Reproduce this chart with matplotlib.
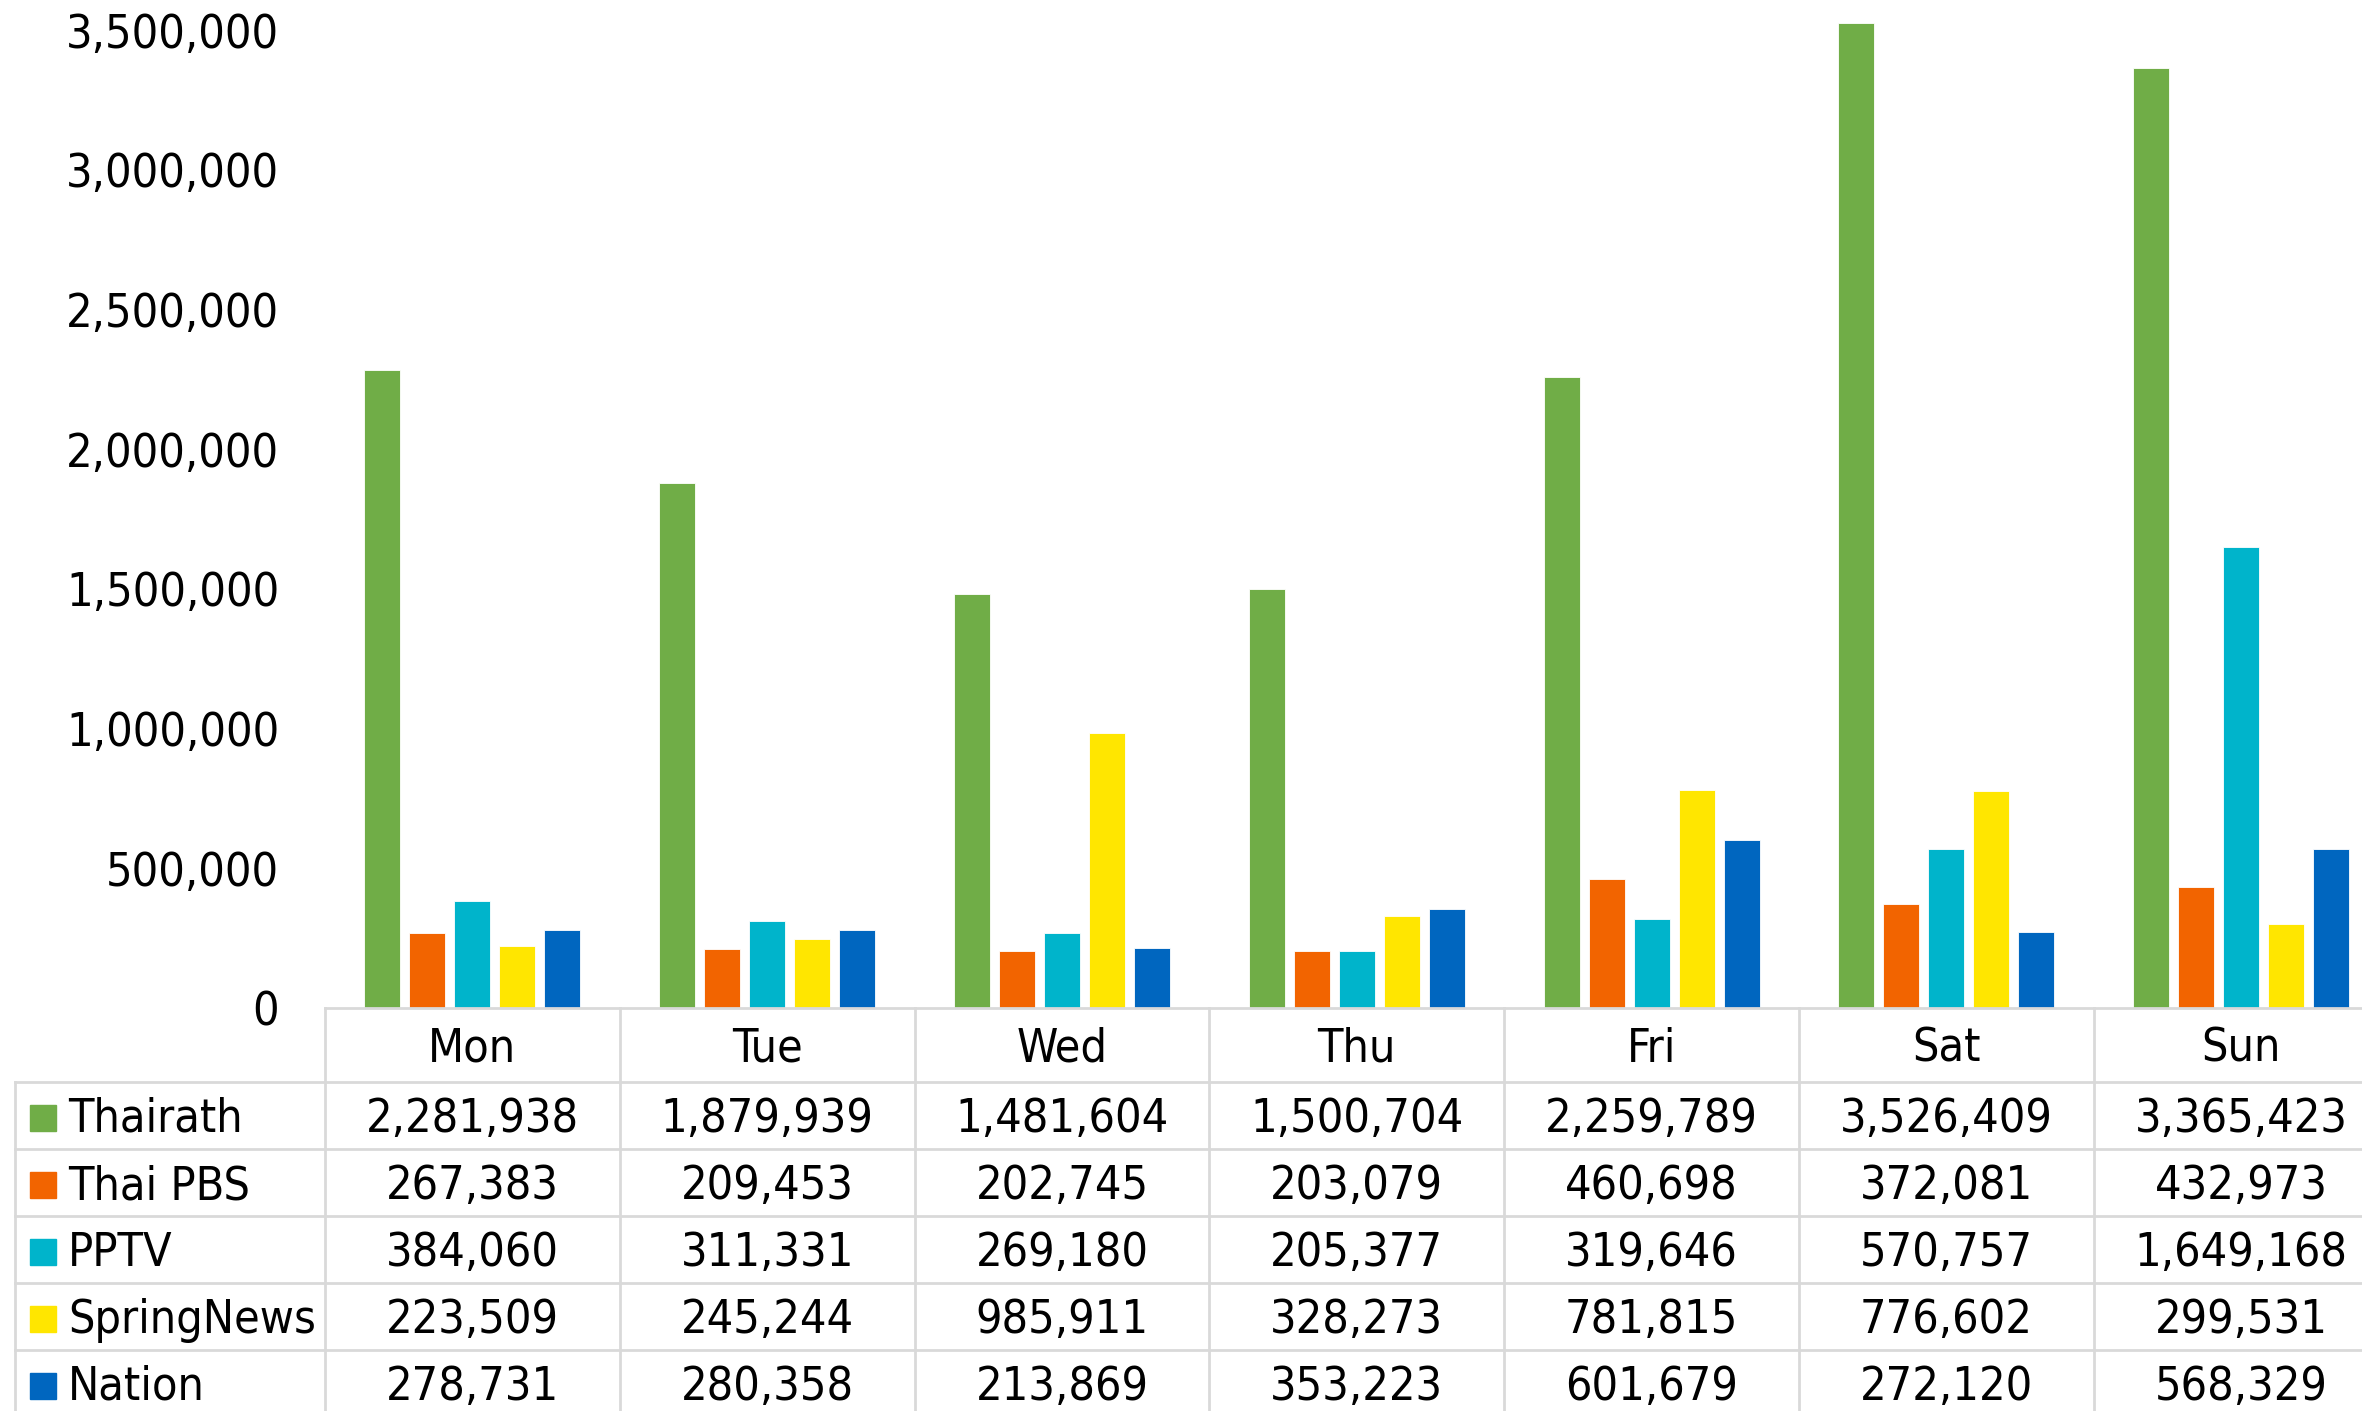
import matplotlib
matplotlib.use("Agg")
import matplotlib.pyplot as plt
import numpy as np
from matplotlib.patches import Rectangle
from matplotlib.ticker import FuncFormatter

# data
days = ['Mon', 'Tue', 'Wed', 'Thu', 'Fri', 'Sat', 'Sun']
channels = ['Thairath', 'Thai PBS', 'PPTV', 'SpringNews', 'Nation']
thairath = [2281938, 1879939, 1481604, 1500704, 2259789, 3526409, 3365423]
thai_pbs = [267383, 209453, 202745, 203079, 460698, 372081, 432973]
pptv = [384060, 311331, 269180, 205377, 319646, 570757, 1649168]
springnews = [223509, 245244, 985911, 328273, 781815, 776602, 299531]
nation = [278731, 280358, 213869, 353223, 601679, 272120, 568329]
series = [thairath, thai_pbs, pptv, springnews, nation]
colors = ['#70AD47', '#F26400', '#00B4CB', '#FFE600', '#0066BF']
yticks = [0, 500000, 1000000, 1500000, 2000000, 2500000, 3000000, 3500000]

plt.rcParams['font.family'] = ['DejaVu Sans']
plt.rcParams['font.stretch'] = 'condensed'
fs = 33.5

W, H = 2362, 1411
fig = plt.figure(figsize=(W / 100, H / 100), dpi=100)

col_px = 294.8      # width of one day column
left_px = 325       # left edge of plot area
zero_px = 1008      # pixel row of the zero line
px_per_m = 279.4    # pixels per million

ax = fig.add_axes([left_px / W, (H - zero_px) / H, 7 * col_px / W, 4 * px_per_m / H])
x = np.arange(len(days))
step = 0.1526
bw = 0.122
for i, vals in enumerate(series):
    ax.bar(x + (i - 2) * step, vals, bw, color=colors[i], edgecolor='white', linewidth=0.6)
ax.set_xlim(-0.5, 6.5)
ax.set_ylim(0, 4000000)
ax.set_yticks(yticks)
ax.yaxis.set_major_formatter(FuncFormatter(lambda v, p: '{:,.0f}'.format(v)))
ax.tick_params(axis='y', length=0, pad=33, labelsize=fs)
ax.set_xticks([])
for s in ax.spines.values():
    s.set_visible(False)

# data table below the bars
tax = fig.add_axes([left_px / W, 0, 7 * col_px / W, (H - zero_px) / H])
tax.set_xlim(-0.5, 6.5)
tax.set_ylim(H - zero_px, 0)
tax.axis('off')

grid = '#D9D9D9'
lw = 2.0
head_h = 74
row_h = 67
leg_left = -0.5 - (left_px - 15) / col_px
right = 7.0
dy = 4  # text sits a little low in its cell

tax.plot([-0.5, right], [0, 0], color=grid, lw=lw, clip_on=False)
for r in range(len(channels) + 1):
    yy = head_h + r * row_h
    tax.plot([leg_left, right], [yy, yy], color=grid, lw=lw, clip_on=False)
for k in range(len(days) + 1):
    tax.plot([k - 0.5, k - 0.5], [0, 420], color=grid, lw=lw, clip_on=False)
tax.plot([leg_left, leg_left], [head_h, 420], color=grid, lw=lw, clip_on=False)

for j, d in enumerate(days):
    tax.text(j, head_h / 2 + dy, d, ha='center', va='center', fontsize=fs, clip_on=False)

sq = 26
for r, (name, vals) in enumerate(zip(channels, series)):
    yc = head_h + r * row_h + row_h / 2
    tax.add_patch(Rectangle((-0.5 - (left_px - 30) / col_px, yc - sq / 2 + 2), sq / col_px, sq,
                            color=colors[r], clip_on=False))
    tax.text(-0.5 - (left_px - 68) / col_px, yc + dy, name, ha='left', va='center',
             fontsize=fs, clip_on=False)
    for j, v in enumerate(vals):
        tax.text(j, yc + dy, '{:,}'.format(v), ha='center', va='center', fontsize=fs, clip_on=False)

fig.savefig('out.png', dpi=100)
